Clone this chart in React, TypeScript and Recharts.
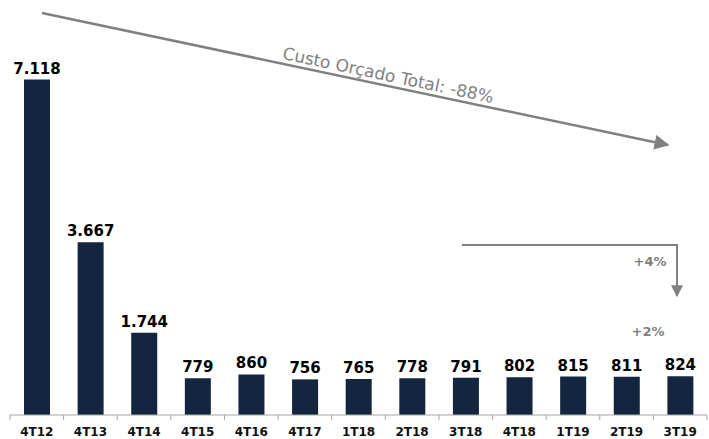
import { BarChart, Bar, XAxis, YAxis, LabelList, usePlotArea } from "recharts";

const periods = ["4T12", "4T13", "4T14", "4T15", "4T16", "4T17", "1T18", "2T18", "3T18", "4T18", "1T19", "2T19", "3T19"];
const custo = [7118, 3667, 1744, 779, 860, 756, 765, 778, 791, 802, 815, 811, 824];

const data = periods.map((p, i) => ({ periodo: p, custo: custo[i] }));

const BAR = "#13253f";
const GRAY = "#808080";
const FONT = "DejaVu Sans, Verdana, sans-serif";

const fmt = (v: number) => String(v).replace(/\B(?=(\d{3})+(?!\d))/g, ".");

function Annotations() {
  const area = usePlotArea ? usePlotArea() : null;
  const left = area ? area.x : 10;
  const width = area ? area.width : 697;
  const base = area ? area.y + area.height : 415;
  const step = width / periods.length;
  const ticks = [];
  for (let i = 0; i <= periods.length; i++) {
    const x = left + i * step;
    ticks.push(<line key={i} x1={x} x2={x} y1={base} y2={base + 5} stroke="#a6a6a6" strokeWidth={1} />);
  }
  return (
    <g>
      {ticks}
      <defs>
        <marker id="arr" viewBox="0 0 10 10" refX="9" refY="5" markerWidth="6" markerHeight="6" orient="auto">
          <path d="M0,0 L10,5 L0,10 z" fill={GRAY} />
        </marker>
      </defs>
      <line x1={42} y1={13} x2={668} y2={145} stroke={GRAY} strokeWidth={2.5} markerEnd="url(#arr)" />
      <text x={387} y={81} fill={GRAY} fontSize={17} fontFamily={FONT}
        textAnchor="middle" transform="rotate(11.9 387 81)">Custo Orçado Total: -88%</text>
      <polyline points="462,245 677,245 677,296" fill="none" stroke={GRAY} strokeWidth={2} markerEnd="url(#arr)" />
      <text x={650} y={266} fill={GRAY} fontSize={13} fontWeight="bold" textAnchor="middle" fontFamily={FONT}>+4%</text>
      <text x={648} y={336} fill={GRAY} fontSize={13} fontWeight="bold" textAnchor="middle" fontFamily={FONT}>+2%</text>
    </g>
  );
}

export default function App() {
  return (
    <div style={{ position: "absolute", left: 0, top: 0, width: 709, height: 439, background: "#fff" }}>
      <BarChart width={709} height={439} data={data} margin={{ top: 38, right: 2, bottom: 0, left: 10 }}>
        <XAxis dataKey="periodo" height={24} interval={0} tickLine={false} axisLine={{ stroke: "#a6a6a6" }}
          tick={{ fill: "#111", fontSize: 12, fontWeight: "bold", fontFamily: FONT }} tickMargin={6} />
        <YAxis hide domain={[0, 8000]} />
        <Bar dataKey="custo" fill={BAR} barSize={26} isAnimationActive={false}>
          <LabelList dataKey="custo" position="top" offset={6} formatter={(v: any) => fmt(Number(v))}
            style={{ fill: "#000", fontSize: 15, fontWeight: "bold", fontFamily: FONT }} />
        </Bar>
        <Annotations />
      </BarChart>
    </div>
  );
}
